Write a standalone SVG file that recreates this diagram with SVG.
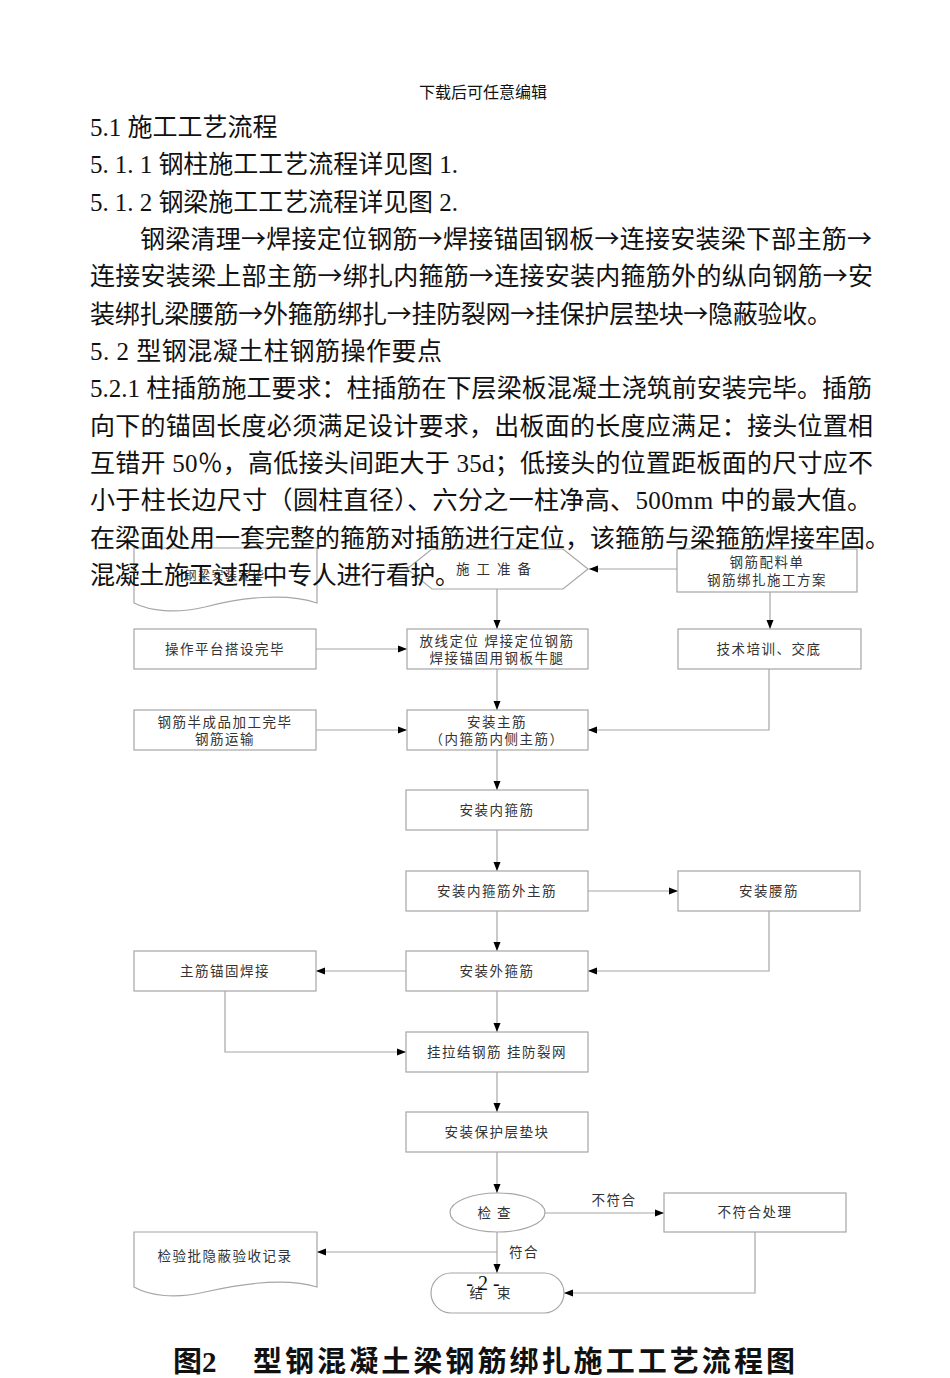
<svg xmlns="http://www.w3.org/2000/svg" width="950" height="1378" viewBox="0 0 950 1378">
<style>
.body{font-family:"Liberation Serif","Noto Sans CJK SC",serif;font-size:25px;fill:#111}
.ar{font-family:"Noto Sans CJK SC",sans-serif}
.hdr{font-family:"Liberation Serif","Noto Sans CJK SC",serif;font-size:16px;fill:#111}
.box{fill:#fff;stroke:#a6a6a6;stroke-width:1.2}
.lbl{font-family:"Liberation Serif","Noto Sans CJK SC",serif;font-size:13.5px;fill:#333;text-anchor:middle;letter-spacing:1.5px}
.con{fill:none;stroke:#a6a6a6;stroke-width:1.2}
.cap{font-family:"Liberation Serif","Noto Sans CJK SC",serif;font-size:29px;font-weight:bold;fill:#111}
</style>
<defs>
<marker id="ah" markerUnits="userSpaceOnUse" markerWidth="10" markerHeight="10" viewBox="0 0 10 10" refX="10" refY="5" orient="auto">
<path d="M1,1.5 L10,5 L1,8.5 Z" fill="#000"/>
</marker>
</defs>
<rect width="950" height="1378" fill="#fff"/>

<g id="connectors">
<path class="con" d="M677,569 H589" marker-end="url(#ah)"/>
<path class="con" d="M497,589 V629" marker-end="url(#ah)"/>
<path class="con" d="M770,592 V629" marker-end="url(#ah)"/>
<path class="con" d="M316,649 H407" marker-end="url(#ah)"/>
<path class="con" d="M497,669 V710" marker-end="url(#ah)"/>
<path class="con" d="M316,730 H407" marker-end="url(#ah)"/>
<path class="con" d="M769,669 V730 H588" marker-end="url(#ah)"/>
<path class="con" d="M497,750 V790" marker-end="url(#ah)"/>
<path class="con" d="M497,830 V871" marker-end="url(#ah)"/>
<path class="con" d="M588,891 H678" marker-end="url(#ah)"/>
<path class="con" d="M497,911 V951" marker-end="url(#ah)"/>
<path class="con" d="M769,911 V971 H588" marker-end="url(#ah)"/>
<path class="con" d="M406,971 H316" marker-end="url(#ah)"/>
<path class="con" d="M497,991 V1032" marker-end="url(#ah)"/>
<path class="con" d="M225,991 V1052 H406" marker-end="url(#ah)"/>
<path class="con" d="M497,1072 V1112" marker-end="url(#ah)"/>
<path class="con" d="M497,1152 V1193" marker-end="url(#ah)"/>
<path class="con" d="M545,1213 H664" marker-end="url(#ah)"/>
<path class="con" d="M497,1232 V1273" marker-end="url(#ah)"/>
<path class="con" d="M497,1252 H317" marker-end="url(#ah)"/>
<path class="con" d="M755,1232 V1293 H564" marker-end="url(#ah)"/>
<text class="lbl" x="614" y="1205">不符合</text>
<text class="lbl" x="524" y="1257">符合</text>
</g>

<g id="n-doc1">
<path class="box" d="M134,548 H317 V603 C285,592 240,598 205,607 C175,614 150,611 134,603 Z"/>
<text class="lbl" x="225" y="580" style="font-size:12px">钢梁安装完毕</text>
</g>
<g id="n-prep">
<path class="box" d="M407,569 L432,549 H563 L588,569 L563,589 H432 Z"/>
<text class="lbl" x="497" y="574" style="letter-spacing:7px">施工准备</text>
</g>
<g id="n-plan">
<rect class="box" x="677" y="549" width="180" height="43"/>
<text class="lbl" x="767" y="567">钢筋配料单</text>
<text class="lbl" x="767" y="585">钢筋绑扎施工方案</text>
</g>
<g id="n-platform">
<rect class="box" x="134" y="629" width="182" height="40"/>
<text class="lbl" x="225" y="654">操作平台搭设完毕</text>
</g>
<g id="n-layout">
<rect class="box" x="407" y="629" width="181" height="40"/>
<text class="lbl" x="497" y="646">放线定位 焊接定位钢筋</text>
<text class="lbl" x="497" y="663">焊接锚固用钢板牛腿</text>
</g>
<g id="n-training">
<rect class="box" x="678" y="629" width="183" height="40"/>
<text class="lbl" x="769" y="654">技术培训、交底</text>
</g>
<g id="n-semi">
<rect class="box" x="134" y="710" width="182" height="40"/>
<text class="lbl" x="225" y="727">钢筋半成品加工完毕</text>
<text class="lbl" x="225" y="744">钢筋运输</text>
</g>
<g id="n-main">
<rect class="box" x="407" y="710" width="181" height="40"/>
<text class="lbl" x="497" y="727">安装主筋</text>
<text class="lbl" x="497" y="744">（内箍筋内侧主筋）</text>
</g>
<g id="n-inner">
<rect class="box" x="406" y="790" width="182" height="40"/>
<text class="lbl" x="497" y="815">安装内箍筋</text>
</g>
<g id="n-outer-main">
<rect class="box" x="406" y="871" width="182" height="40"/>
<text class="lbl" x="497" y="896">安装内箍筋外主筋</text>
</g>
<g id="n-waist">
<rect class="box" x="678" y="871" width="182" height="40"/>
<text class="lbl" x="769" y="896">安装腰筋</text>
</g>
<g id="n-outer">
<rect class="box" x="406" y="951" width="182" height="40"/>
<text class="lbl" x="497" y="976">安装外箍筋</text>
</g>
<g id="n-anchor">
<rect class="box" x="134" y="951" width="182" height="40"/>
<text class="lbl" x="225" y="976">主筋锚固焊接</text>
</g>
<g id="n-tie">
<rect class="box" x="406" y="1032" width="182" height="40"/>
<text class="lbl" x="497" y="1057">挂拉结钢筋  挂防裂网</text>
</g>
<g id="n-cover">
<rect class="box" x="406" y="1112" width="182" height="40"/>
<text class="lbl" x="497" y="1137">安装保护层垫块</text>
</g>
<g id="n-check">
<ellipse class="box" cx="497.5" cy="1212.5" rx="47.5" ry="19.5"/>
<text class="lbl" x="497" y="1218" style="letter-spacing:6px">检查</text>
</g>
<g id="n-fail">
<rect class="box" x="664" y="1193" width="182" height="39"/>
<text class="lbl" x="755" y="1217">不符合处理</text>
</g>
<g id="n-record">
<path class="box" d="M134,1232 H317 V1287 C285,1277 240,1284 205,1292 C175,1299 150,1296 134,1287 Z"/>
<text class="lbl" x="225" y="1261">检验批隐蔽验收记录</text>
</g>
<g id="n-end">
<rect class="box" x="431" y="1273" width="133" height="40" rx="20" ry="20"/>
<text class="lbl" x="497" y="1298" style="letter-spacing:14px">结束</text>
</g>

<g id="page-text">
<text class="hdr" x="483" y="98" text-anchor="middle">下载后可任意编辑</text>
<text class="body" x="90" y="136">5.1 施工工艺流程</text>
<text class="body" x="90" y="173" textLength="368" lengthAdjust="spacing">5. 1. 1 钢柱施工工艺流程详见图 1.</text>
<text class="body" x="90" y="211" textLength="368" lengthAdjust="spacing">5. 1. 2 钢梁施工工艺流程详见图 2.</text>
<text class="body" x="140" y="248" textLength="732" lengthAdjust="spacing">钢梁清理<tspan class="ar">→</tspan>焊接定位钢筋<tspan class="ar">→</tspan>焊接锚固钢板<tspan class="ar">→</tspan>连接安装梁下部主筋<tspan class="ar">→</tspan></text>
<text class="body" x="90" y="285" textLength="783" lengthAdjust="spacing">连接安装梁上部主筋<tspan class="ar">→</tspan>绑扎内箍筋<tspan class="ar">→</tspan>连接安装内箍筋外的纵向钢筋<tspan class="ar">→</tspan>安</text>
<text class="body" x="90" y="323" textLength="742" lengthAdjust="spacing">装绑扎梁腰筋<tspan class="ar">→</tspan>外箍筋绑扎<tspan class="ar">→</tspan>挂防裂网<tspan class="ar">→</tspan>挂保护层垫块<tspan class="ar">→</tspan>隐蔽验收。</text>
<text class="body" x="90" y="360" textLength="352" lengthAdjust="spacing">5. 2  型钢混凝土柱钢筋操作要点</text>
<text class="body" x="90" y="397" textLength="782" lengthAdjust="spacing">5.2.1 柱插筋施工要求：柱插筋在下层梁板混凝土浇筑前安装完毕。插筋</text>
<text class="body" x="90" y="435" textLength="783" lengthAdjust="spacing">向下的锚固长度必须满足设计要求，出板面的长度应满足：接头位置相</text>
<text class="body" x="90" y="472" textLength="783" lengthAdjust="spacing">互错开 50％，高低接头间距大于 35d；低接头的位置距板面的尺寸应不</text>
<text class="body" x="90" y="509" textLength="782" lengthAdjust="spacing">小于柱长边尺寸（圆柱直径）、六分之一柱净高、500mm 中的最大值。</text>
<text class="body" x="90" y="547" textLength="800" lengthAdjust="spacing">在梁面处用一套完整的箍筋对插筋进行定位，该箍筋与梁箍筋焊接牢固。</text>
<text class="body" x="90" y="584" textLength="370" lengthAdjust="spacing">混凝土施工过程中专人进行看护。</text>
<text x="483" y="1290" text-anchor="middle" style="font-family:'Liberation Serif',serif;font-size:20px;fill:#111">- 2 -</text>
<text class="cap" x="173" y="1372">图2</text>
<text class="cap" x="253" y="1372" textLength="542" lengthAdjust="spacing">型钢混凝土梁钢筋绑扎施工工艺流程图</text>
</g>
</svg>
